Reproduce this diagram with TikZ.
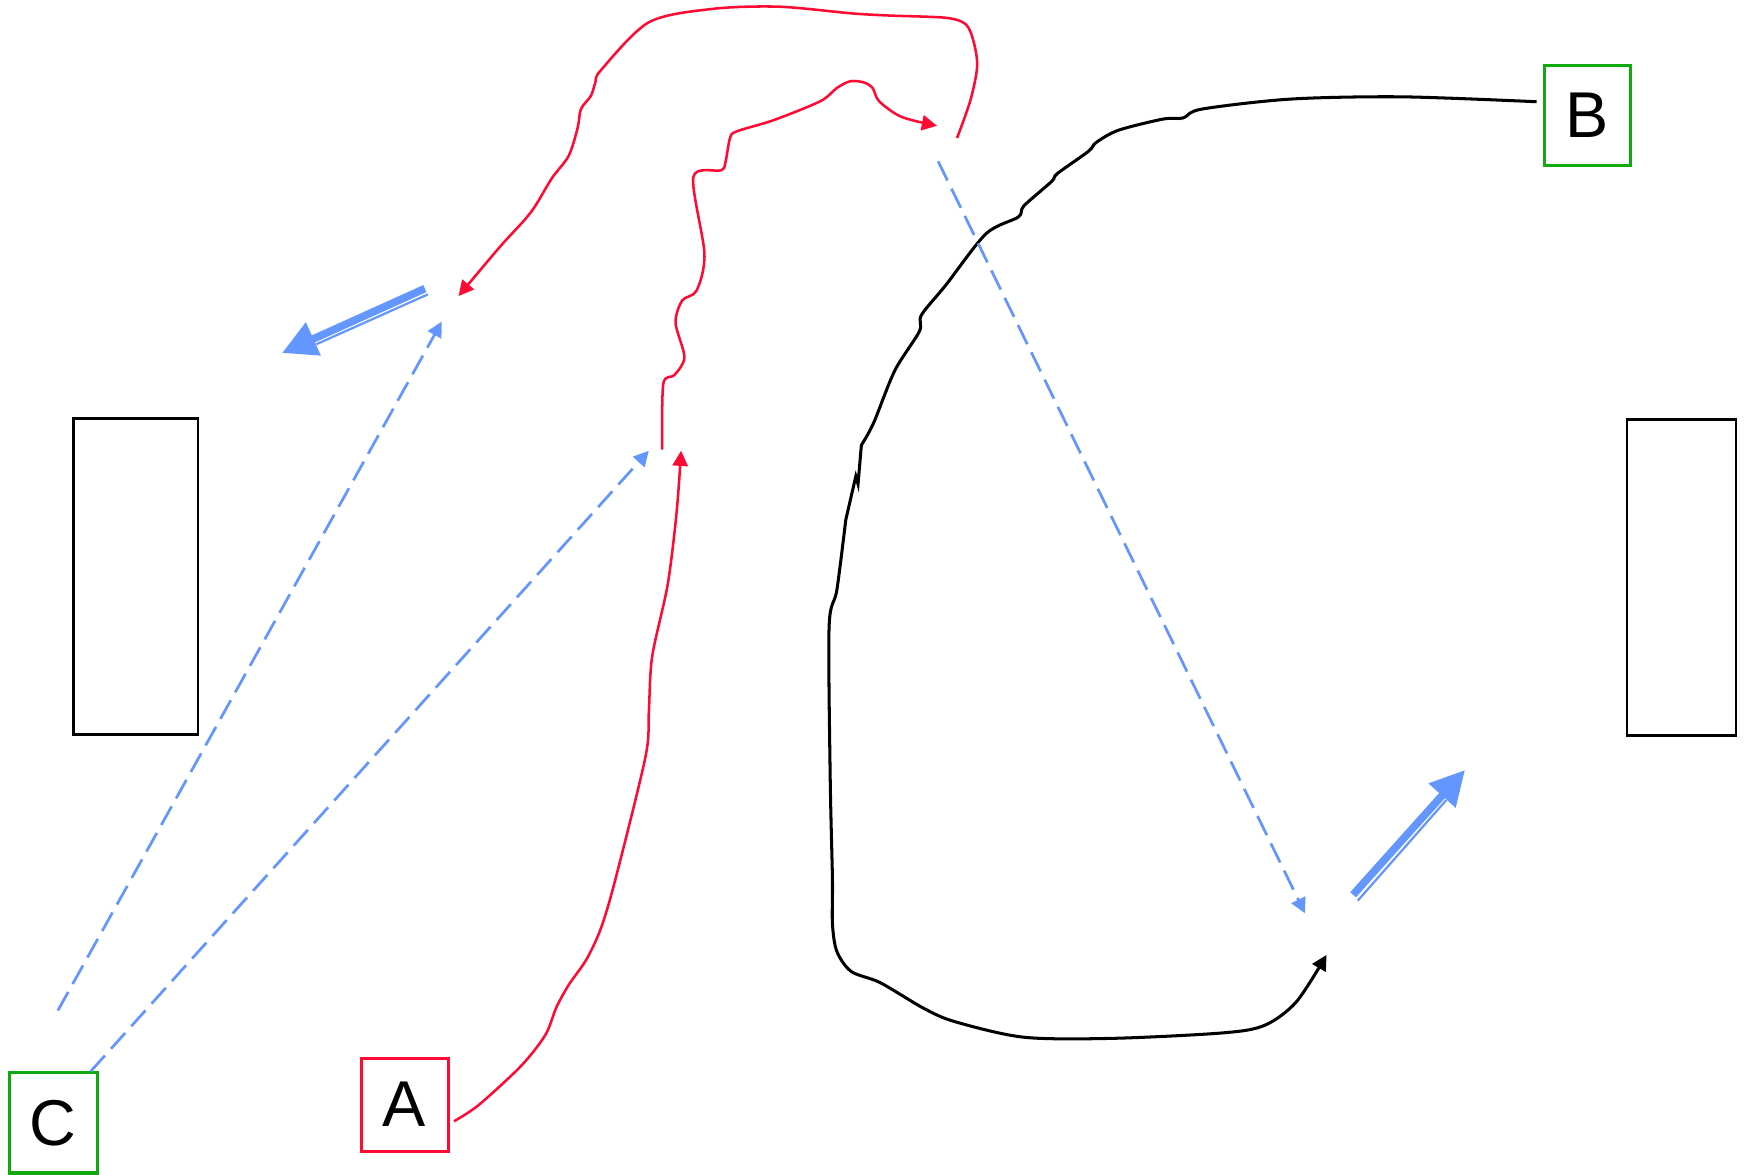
\documentclass[tikz,border=0pt]{standalone}
\usepackage{fontspec}
\setmainfont{Liberation Sans}
\usetikzlibrary{arrows.meta}
\definecolor{Rose}{HTML}{FF0A33}
\definecolor{Leaf}{HTML}{10AA10}
\definecolor{Cornflower}{HTML}{6496FF}

\begin{document}
\begin{tikzpicture}[x=0.55pt,y=-0.55pt,
      every node/.style={font=\fontsize{32}{38}\selectfont},
      letterbox/.style={draw,line width=1.5pt,inner sep=0pt},
      wall/.style={draw,line width=1.3pt},
      redpath/.style={Rose,line width=1.25pt,-{Triangle[length=7.5pt,width=7.5pt]}},
      blackpath/.style={black,line width=1.5pt,-{Triangle[length=7.5pt,width=7.5pt]}},
      dashpath/.style={Cornflower,line width=1.35pt,dash pattern=on 10.5pt off 4.5pt,
                       -{Triangle[length=7.5pt,width=7.5pt]}},
      pusharrow/.style={Cornflower,line width=3.8pt,-{Triangle[length=17pt,width=17pt]}},
      pushrail/.style={Cornflower,line width=1.1pt}
    ]
      \useasboundingbox (0,0) rectangle (1568,1055);

      \node[letterbox,draw=Leaf,minimum width=42.2pt,minimum height=49.4pt] (B)
            at (1426.4,103.4) {B};
      \node[letterbox,draw=Leaf,minimum width=43.5pt,minimum height=49.5pt] (C)
            at (47.7,1009) {C};
      \node[letterbox,draw=Rose,minimum width=43pt,minimum height=46pt] (A)
            at (363.5,992.5) {A};

      \draw[wall] (66,376) rectangle (178,660);
      \draw[wall] (1462,377) rectangle (1560,661);

      \coordinate (redTipA) at (612,405);
      \coordinate (redStartB) at (595,404);
      \coordinate (redTipB) at (842,113);
      \coordinate (redStartC) at (860,124);
      \coordinate (redTipC) at (412,266);
      \coordinate (blackTip) at (1192,858);
      \coordinate (dashStartA) at (52,908);
      \coordinate (dashTipA) at (397,289);
      \coordinate (dashTipB) at (583,405);
      \coordinate (dashStartC) at (843,145);
      \coordinate (dashTipC) at (1172.6,820.7);
      \coordinate (pushStartA) at (381.8,259.3);
      \coordinate (pushTipA) at (253.4,317.2);
      \coordinate (pushStartB) at (1215.8,804);
      \coordinate (pushTipB) at (1316.4,691.9);

      \draw[redpath] plot[smooth,tension=0.5] coordinates {([shift={(4,15)}]A.east)
        (430,993) (468,958) (490,930) (500,905) (511,885) (527,862) (540,834)
        (553,790) (580,680) (583,640) (586,590) (600,525) (608,460) (redTipA)};
      \draw[redpath] plot[smooth,tension=0.5] coordinates {(redStartB)
        (596,345) (606,337) (615,321) (607,290) (613,270) (626,261) (633,228)
        (623,159) (648,153) (652,145) (656,124) (662,118) (695,108) (737,91)
        (752,79) (764,73) (776,74) (784,79) (790,91) (810,105) (redTipB)};
      \draw[redpath] plot[smooth,tension=0.5] coordinates {(redStartC)
        (872,90) (878,60) (875,38) (868,22) (850,16) (800,14) (765,12) (700,6)
        (640,8) (583,20) (540,63) (535,74) (531,86) (522,98) (519,115) (511,140)
        (496,160) (481,185) (471,198) (449,222) (redTipC)};

      \draw[blackpath] plot[smooth,tension=0.5] coordinates {([shift={(-6,-12)}]B.west)
        (1260,87) (1160,89) (1080,98) (1063,106) (1045,107) (1005,117) (985,128)
        (978,136) (950,156) (945,163) (920,185) (915,195) (886,210) (850,256)
        (828,283) (826,298) (804,333) (785,380) (774,400)} -- (771,435) -- (769,428)
        -- plot[smooth,tension=0.5] coordinates {(760,467) (752,530) (745,563)
        (746,700) (748,790) (748,830) (752,855) (765,873) (791,883) (830,906)
        (858,918) (920,932) (1000,933) (1100,928) (1137,921) (1165,900) (blackTip)};

      \draw[dashpath] (dashStartA) -- (dashTipA);
      \draw[dashpath] ([xshift=-3.9pt]C.north east) -- (dashTipB);
      \draw[dashpath] (dashStartC) -- (dashTipC);

      \draw[pusharrow] (pushStartA) -- (pushTipA);
      \draw[pushrail] ([shift={(2.7,5.2)}]pushStartA) -- ([shift={(-97.5,50)}]pushStartA);
      \draw[pusharrow] (pushStartB) -- (pushTipB);
      \draw[pushrail] ([shift={(4.2,5.3)}]pushStartB) -- (1299.5,719);
    \end{tikzpicture}
\end{document}
